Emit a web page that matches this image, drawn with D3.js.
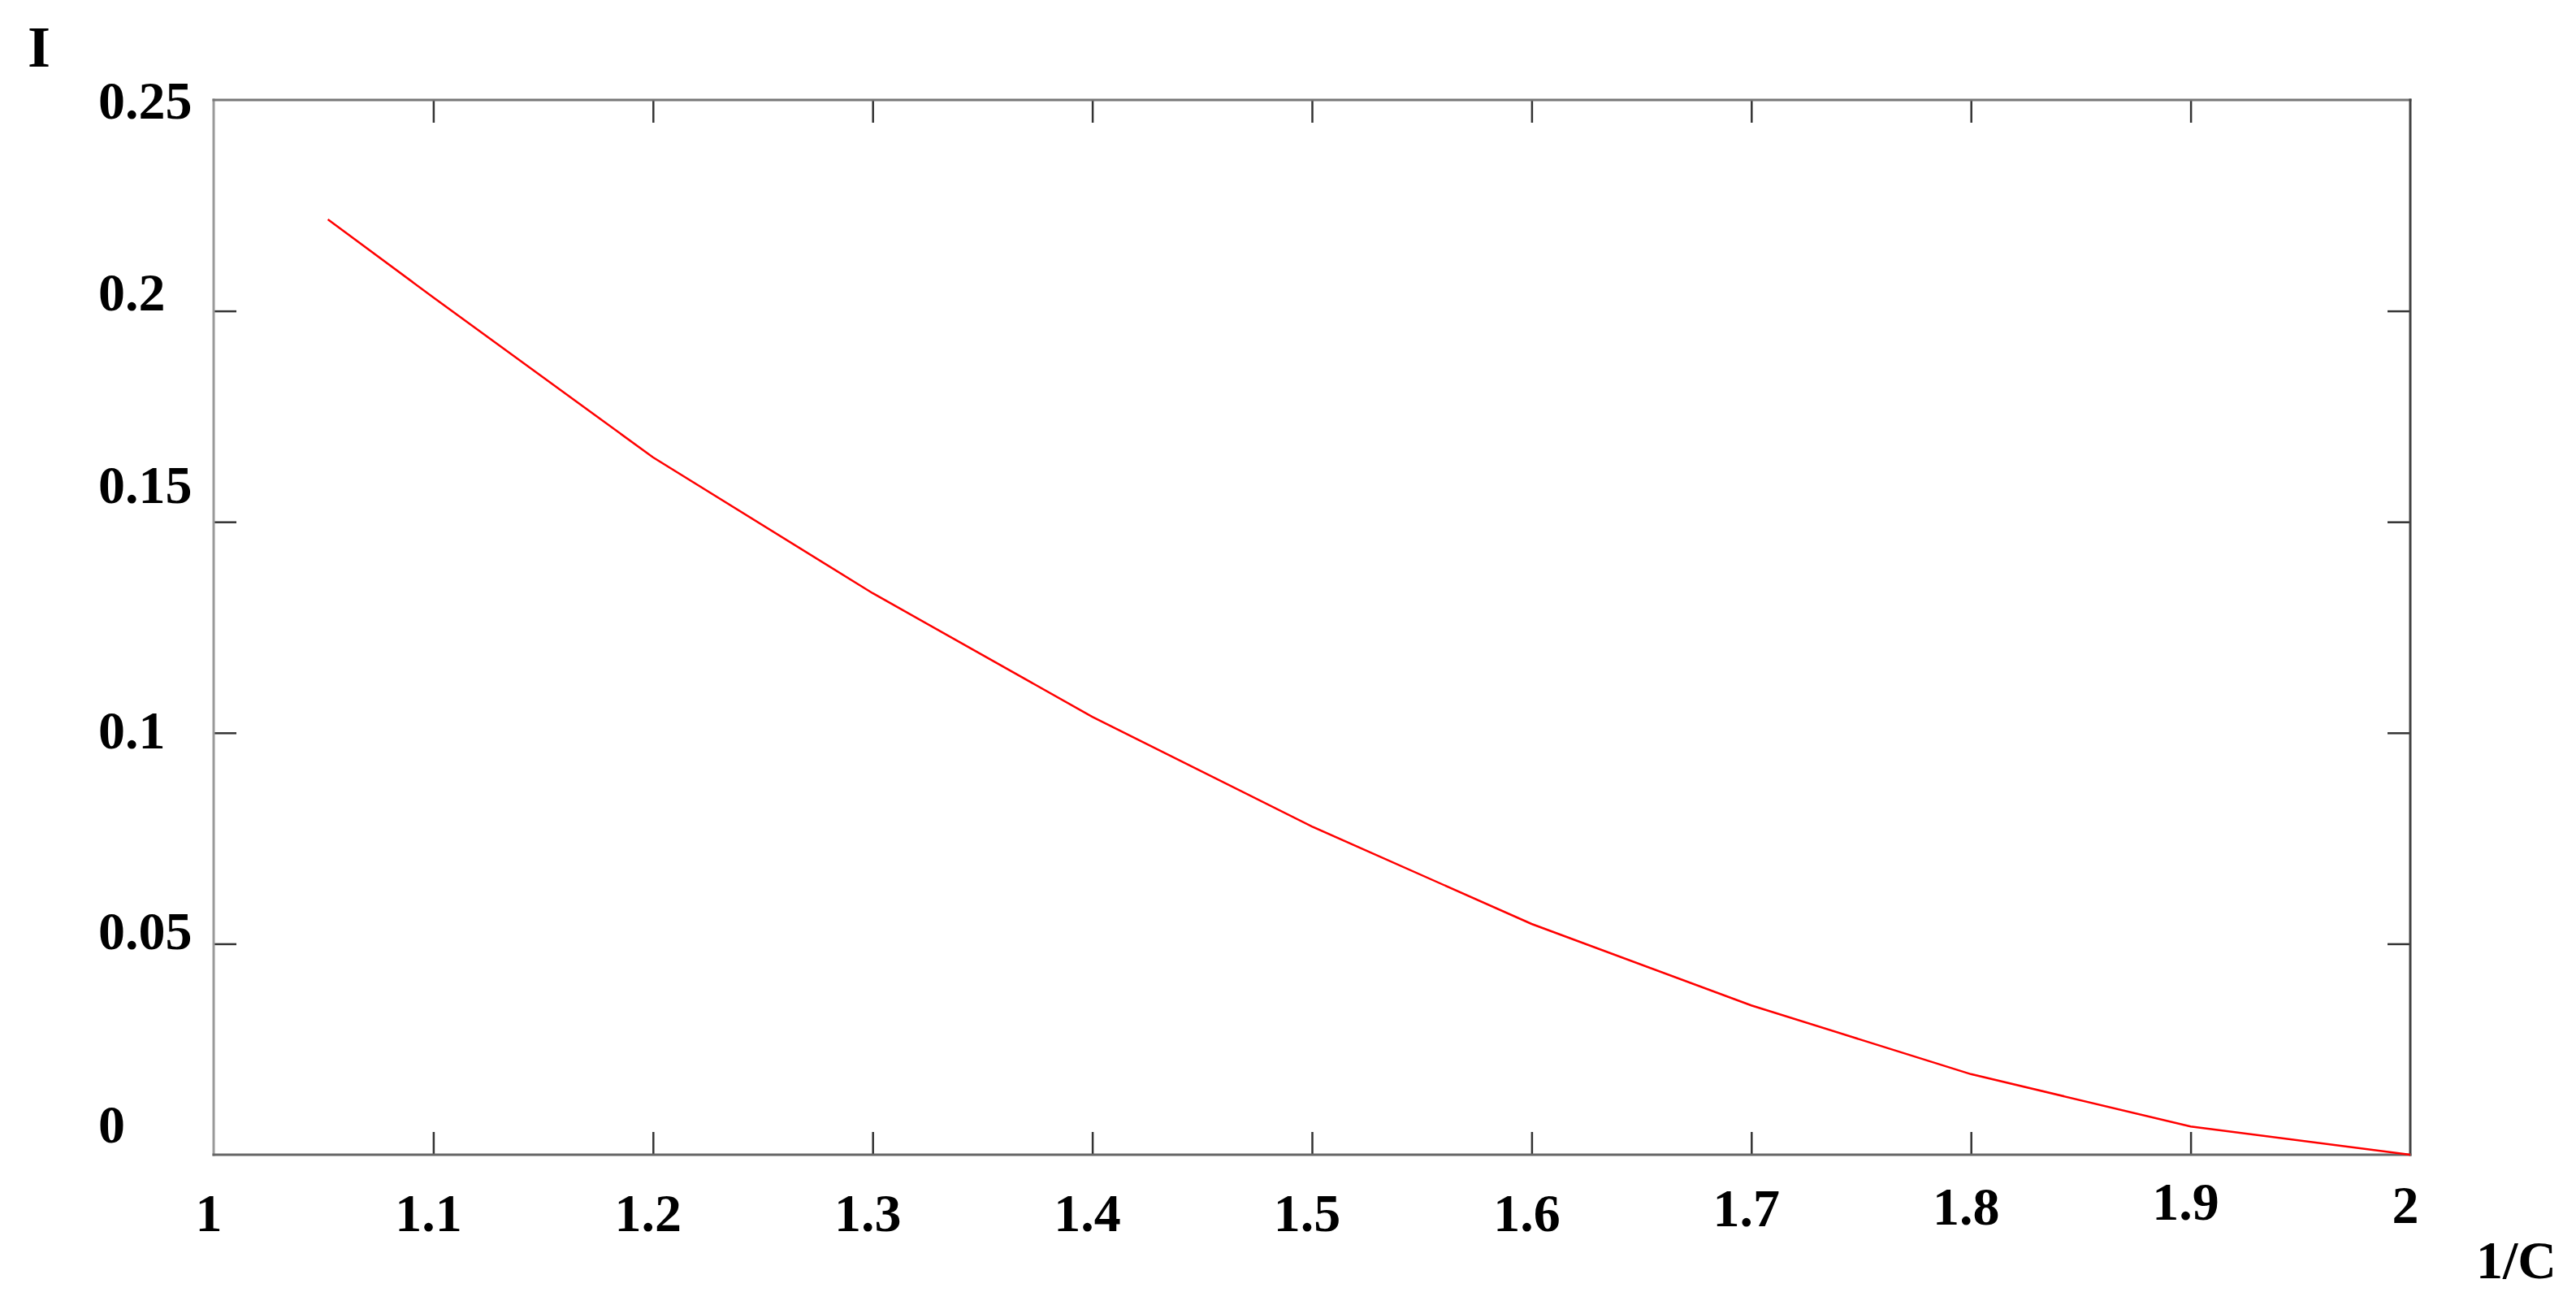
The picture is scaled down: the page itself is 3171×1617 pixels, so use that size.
<!DOCTYPE html>
<html>
<head>
<meta charset="utf-8">
<script src="https://cdnjs.cloudflare.com/ajax/libs/d3/7.8.5/d3.min.js"></script>
<style>
body { margin: 0; background: #fff; }
.tickLabel { font-family: "Liberation Serif", "Times New Roman", serif; font-weight: bold; font-size: 66px; fill: #000; }
</style>
</head>
<body>
<div id="chart"></div>
<script>

// data
const invC = [1.052, 1.1, 1.2, 1.3, 1.4, 1.5, 1.6, 1.7, 1.8, 1.9, 2.0]
const current = [0.2217, 0.2032, 0.1653, 0.1331, 0.1038, 0.0778, 0.0547, 0.0354, 0.0191, 0.0067, 0]

const xTicks = [1, 1.1, 1.2, 1.3, 1.4, 1.5, 1.6, 1.7, 1.8, 1.9, 2]
const yTicks = [0, 0.05, 0.1, 0.15, 0.2, 0.25]
const xTitle = "1/C"
const yTitle = "I"

// the labels in the original sit a bit off their ticks
const xLabNudge = [0, 0, 0, 0, 0, 0, 0, -6, -8, -14, -10]
const yLabNudge = [-18, 4, 16, -26, -4, 20]

const config = {
    top: 123,
    right: 204,
    bottom: 196,
    left: 263,
}

const width = 3171
const height = 1617
const innerW = width - config.left - config.right
const innerH = height - config.top - config.bottom

const xScale = d3.scaleLinear().domain([1, 2]).range([0, innerW])
const yScale = d3.scaleLinear().domain([0, 0.25]).range([innerH, 0])

const svg = d3.select('#chart').append('svg')
    .attr("width", width)
    .attr("height", height)
    .style("display", "block")

svg.append('rect').attr("width", width).attr("height", height).attr("fill", "#fff")

const g = svg.append('g').attr("transform", `translate(${config.left},${config.top})`)

const innerX = xTicks.filter(d => d > 1 && d < 2)
const innerY = yTicks.filter(d => d > 0 && d < 0.25)

//ticks, all pointing into the plot
g.append('g')
    .attr("transform", `translate(0,${innerH})`)
    .call(d3.axisBottom(xScale).tickValues(innerX).tickSize(-28).tickFormat(""))
g.append('g')
    .call(d3.axisTop(xScale).tickValues(innerX).tickSize(-28).tickFormat(""))
g.append('g')
    .call(d3.axisLeft(yScale).tickValues(innerY).tickSize(-28).tickFormat(""))
g.append('g')
    .attr("transform", `translate(${innerW},0)`)
    .call(d3.axisRight(yScale).tickValues(innerY).tickSize(-28).tickFormat(""))

g.selectAll(".domain").remove()
g.selectAll(".tick line").attr("stroke", "#333").attr("stroke-width", 2.5)

// frame
const frame = [
    {x1: 0, y1: 0, x2: 0, y2: innerH, c: "#999"},
    {x1: 0, y1: 0, x2: innerW, y2: 0, c: "#777"},
    {x1: innerW, y1: 0, x2: innerW, y2: innerH, c: "#444"},
    {x1: 0, y1: innerH, x2: innerW, y2: innerH, c: "#666"},
]
g.selectAll('line.frame')
    .data(frame)
    .enter()
    .append('line')
    .attr("class", "frame")
    .attr("x1", d => d.x1).attr("y1", d => d.y1)
    .attr("x2", d => d.x2).attr("y2", d => d.y2)
    .attr("stroke", d => d.c)
    .attr("stroke-width", 3)
    .attr("stroke-linecap", "square")

// tick labels
g.selectAll('text.xLab')
    .data(xTicks)
    .enter()
    .append('text')
    .attr("class", "tickLabel xLab")
    .attr("x", d => xScale(d) - 6)
    .attr("y", (d, i) => innerH + 94 + xLabNudge[i])
    .attr("text-anchor", "middle")
    .text(d => d)

g.selectAll('text.yLab')
    .data(yTicks)
    .enter()
    .append('text')
    .attr("class", "tickLabel yLab")
    .attr("x", 121 - config.left)
    .attr("y", (d, i) => yScale(d) + 3 + yLabNudge[i])
    .attr("text-anchor", "start")
    .text(d => d)

// axis titles
svg.append('text')
    .attr("class", "tickLabel")
    .attr("x", 34)
    .attr("y", 82)
    .style("font-size", "72px")
    .text(yTitle)

svg.append('text')
    .attr("class", "tickLabel")
    .attr("x", 3048)
    .attr("y", 1573)
    .text(xTitle)

// the curve
const lineGenerator = d3.line()
    .x((d, i) => xScale(invC[i]))
    .y(d => yScale(d))

g.append('path')
    .datum(current)
    .attr("d", lineGenerator)
    .attr("fill", "none")
    .attr("stroke", "#ff0000")
    .attr("stroke-width", 2.5)

</script>
</body>
</html>
